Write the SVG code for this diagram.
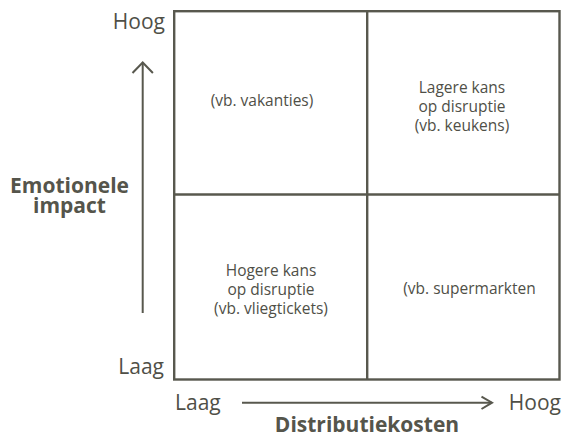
<svg xmlns="http://www.w3.org/2000/svg" width="564" height="435" viewBox="0 0 564 435">
<style>
text{font-family:"Open Sans","Noto Sans","Liberation Sans",sans-serif;fill:#4f4f47}
.ax{font-size:21px}
.b{font-size:21px;font-weight:bold;fill:#55554b}
.c{font-size:15.5px;text-anchor:middle}
.ln{stroke:#58584e;stroke-width:2.4;fill:none}
.ar{stroke:#58584e;stroke-width:2;fill:none}
</style>
<rect width="564" height="435" fill="#fff"/>
<g id="grid">
<rect class="ln" x="174.2" y="11.2" width="385.3" height="368.3"/>
<line class="ln" x1="367.2" y1="11.2" x2="367.2" y2="379.5"/>
<line class="ln" x1="174.2" y1="194.5" x2="559.5" y2="194.5"/>
</g>
<g id="connectors">
<line class="ar" x1="142.7" y1="313" x2="142.7" y2="62.5"/>
<polyline class="ar" points="132.5,73 142.7,62.5 152.9,73"/>
<line class="ar" x1="242" y1="402.7" x2="492" y2="402.7"/>
<polyline class="ar" points="481.5,396.7 492,402.7 481.5,409"/>
</g>
<g id="q1"><text class="c" x="262" y="106">(vb. vakanties)</text></g>
<g id="q2"><text class="c" x="462" y="93">Lagere kans</text><text class="c" x="462" y="112">op disruptie</text><text class="c" x="462" y="131">(vb. keukens)</text></g>
<g id="q3"><text class="c" x="271" y="276">Hogere kans</text><text class="c" x="271" y="295">op disruptie</text><text class="c" x="271" y="314">(vb. vliegtickets)</text></g>
<g id="q4"><text class="c" x="469.5" y="294">(vb. supermarkten</text></g>
<g id="labels">
<text class="ax" x="165" y="29" text-anchor="end">Hoog</text>
<text class="ax" x="164" y="374" text-anchor="end">Laag</text>
<text class="ax" x="175" y="410">Laag</text>
<text class="ax" x="561" y="410" text-anchor="end">Hoog</text>
<text class="b" x="367" y="432" text-anchor="middle">Distributiekosten</text>
<text class="b" x="69.5" y="193" text-anchor="middle">Emotionele</text>
<text class="b" x="69.5" y="213" text-anchor="middle">impact</text>
</g>
</svg>
